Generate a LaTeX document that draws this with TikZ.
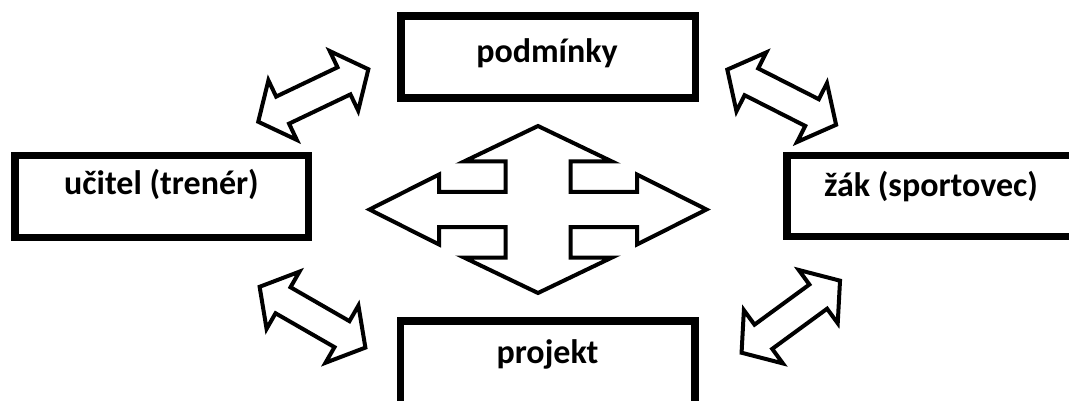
\documentclass[tikz,border=0pt]{standalone}
\usepackage{fontspec}
\setmainfont{Carlito}
\begin{document}
\begin{tikzpicture}[x=1pt,y=-1pt,
  framebox/.style={draw=black, line width=7.5pt, line join=miter, fill=white,
    rectangle, inner sep=0pt, minimum width=294.5pt, minimum height=82pt},
  boxtext/.style={font=\bfseries\fontsize{34}{34}\selectfont, anchor=base, inner sep=0pt},
  outline/.style={draw=black, line width=4pt, line join=miter, fill=white},
  dblarrow/.pic={
    \path[outline] (-61,0) -- (-34,-33) -- (-34,-15) -- (34,-15) -- (34,-33)
      -- (61,0) -- (34,33) -- (34,15) -- (-34,15) -- (-34,33) -- cycle;
  }
]
\useasboundingbox (0,0) rectangle (1069,401);
\clip (0,0) rectangle (1069,401);

% the four frames
\node[framebox] (bTop) at (548,57) {};
\node[framebox, minimum width=293.5pt, minimum height=81.5pt] (bLeft) at (161.5,196.5) {};
\node[framebox, minimum height=80.5pt] (bRight) at (934,196) {};
\node[framebox, minimum height=91.5pt] (bBottom) at (547.5,366.5) {};

\node[boxtext] (tTop) at (547,63) {podmínky};
\node[boxtext] (tLeft) at (161.5,195) {učitel (trenér)};
\node[boxtext] (tRight) at (931,196.5) {žák (sportovec)};
\node[boxtext] (tBottom) at (547.5,363) {projekt};

% four-way arrow in the middle
\begin{scope}[shift={(538,209.5)}]
  \path[outline] (0,-83.5) -- (74,-48) -- (32.5,-48) -- (32.5,-17.5) -- (99,-17.5)
    -- (99,-35) -- (168.5,0) -- (99,35) -- (99,17.5) -- (32.5,17.5) -- (32.5,48)
    -- (74,48) -- (0,83.5) -- (-74,48) -- (-32.5,48) -- (-32.5,17.5) -- (-99,17.5)
    -- (-99,35) -- (-168.5,0) -- (-99,-35) -- (-99,-17.5) -- (-32.5,-17.5)
    -- (-32.5,-48) -- (-74,-48) -- cycle;
\end{scope}

% double arrows between the frames
\pic[rotate=25.5] (aTL) at (313.3,95.5) {dblarrow};
\pic[rotate=-26.9] (aTR) at (781.7,97.2) {dblarrow};
\pic[rotate=-29.9] (aBL) at (312.5,317.2) {dblarrow};
\pic[rotate=36.2] (aBR) at (790.8,316.7) {dblarrow};
\end{tikzpicture}
\end{document}
